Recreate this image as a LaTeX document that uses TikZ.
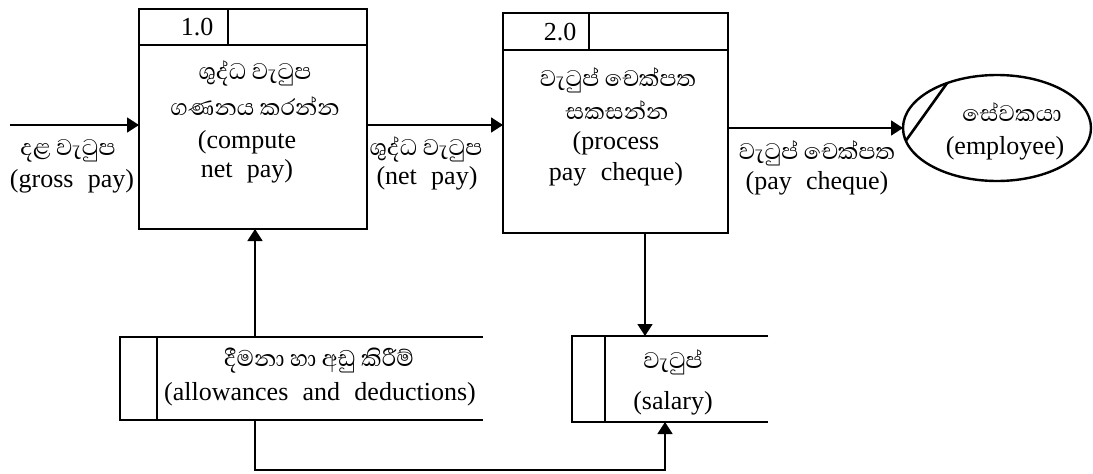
\documentclass[tikz,border=0pt]{standalone}
\usepackage{fontspec}
\setmainfont{Liberation Serif}[WordSpace=2.2]
\newfontfamily\sinhalafont[Script=Sinhala]{Abhaya Libre}
\usetikzlibrary{arrows.meta,shapes.geometric}
\tikzset{
  boxline/.style={line width=2.6pt},
  procbox/.style={draw, line width=2.6pt, inner sep=0pt, outer sep=0pt},
  storeline/.style={line width=2.8pt},
  flow/.style={line width=1.7pt, -{Triangle[length=12pt,width=15pt]}},
  en/.style={font=\fontsize{26}{30}\selectfont, inner sep=0pt},
  si/.style={font=\sinhalafont\fontsize{29}{33}\selectfont, inner sep=0pt},
}
\begin{document}
\begin{tikzpicture}[x=1pt,y=-1pt]
\useasboundingbox[fill=white] (0,0) rectangle (1093,474);

% process 1.0
\node[procbox, minimum width=228pt, minimum height=220pt] (p1) at (253,119) {};
\draw[boxline] ([yshift=-36pt]p1.north west) -- ([yshift=-36pt]p1.north east);
\draw[boxline] ([xshift=89pt]p1.north west) -- ([xshift=89pt,yshift=-36pt]p1.north west);
\node[en] (n1) at (197,27) {1.0};
\node[si] (p1a) at (255,73) {ශුද්ධ වැටුප};
\node[si] (p1b) at (255,106) {ගණනය කරන්න};
\node[en] (p1c) at (247,142) {(compute};
\node[en] (p1d) at (247,171) {net pay)};

% process 2.0
\node[procbox, minimum width=225pt, minimum height=220pt] (p2) at (615.5,123) {};
\draw[boxline] ([yshift=-37pt]p2.north west) -- ([yshift=-37pt]p2.north east);
\draw[boxline] ([xshift=86pt]p2.north west) -- ([xshift=86pt,yshift=-37pt]p2.north west);
\node[en] (n2) at (560,32) {2.0};
\node[si] (p2a) at (618,80) {වැටුප් චෙක්පත};
\node[si] (p2b) at (617,110) {සකසන්න};
\node[en] (p2c) at (616,143) {(process};
\node[en] (p2d) at (616,174) {pay cheque)};

% external entity
\node[draw, ellipse, line width=2.4pt, minimum width=188pt, minimum height=106pt, inner sep=0pt, outer sep=0pt] (emp) at (997,128) {};
\draw[boxline] (emp.138) -- (emp.188);
\node[si] (ea) at (1012,112) {සේවකයා};
\node[en] (eb) at (1005,148) {(employee)};

% data stores
\node[minimum width=363pt, minimum height=83pt, inner sep=0pt, outer sep=0pt] (s1) at (301.5,378.5) {};
\draw[storeline] (s1.north east) -- (s1.north west) -- (s1.south west) -- (s1.south east);
\draw[storeline] ([xshift=37pt]s1.north west) -- ([xshift=37pt]s1.south west);
\node[si] (s1a) at (319,361) {දීමනා හා අඩු කිරීම්};
\node[en] (s1b) at (320,394) {(allowances and deductions)};

\node[minimum width=196pt, minimum height=86pt, inner sep=0pt, outer sep=0pt] (s2) at (670,379) {};
\draw[storeline] (s2.north east) -- (s2.north west) -- (s2.south west) -- (s2.south east);
\draw[storeline] ([xshift=33pt]s2.north west) -- ([xshift=33pt]s2.south west);
\node[si] (s2a) at (673,362) {වැටුප්};
\node[en] (s2b) at (673,403) {(salary)};

% flow labels
\node[si] (ga) at (68,151) {දළ වැටුප};
\node[en] (gb) at (72,181) {(gross pay)};
\node[si] (na) at (426,149) {ශුද්ධ වැටුප};
\node[en] (nb) at (427,178) {(net pay)};
\node[si] (ca) at (817,153) {වැටුප් චෙක්පත};
\node[en] (cb) at (817,183) {(pay cheque)};

% flows
\coordinate (gin) at (10,125);
\draw[flow] (gin) -- (gin -| p1.west);
\draw[flow] ([yshift=-6pt]p1.east) -- ([yshift=-6pt]p1.east -| p2.west);
\draw[flow] (emp.west -| p2.east) -- (emp.west);
\draw[flow] ([xshift=2pt]p1.south |- s1.north) -- ([xshift=2pt]p1.south);
\draw[flow] ([xshift=-25pt]s2.north |- p2.south) -- ([xshift=-25pt]s2.north);
\draw[flow] ([xshift=2pt]p1.south |- s1.south) -- ++(0,50) -| ([xshift=-5pt]s2.south);
\end{tikzpicture}
\end{document}
